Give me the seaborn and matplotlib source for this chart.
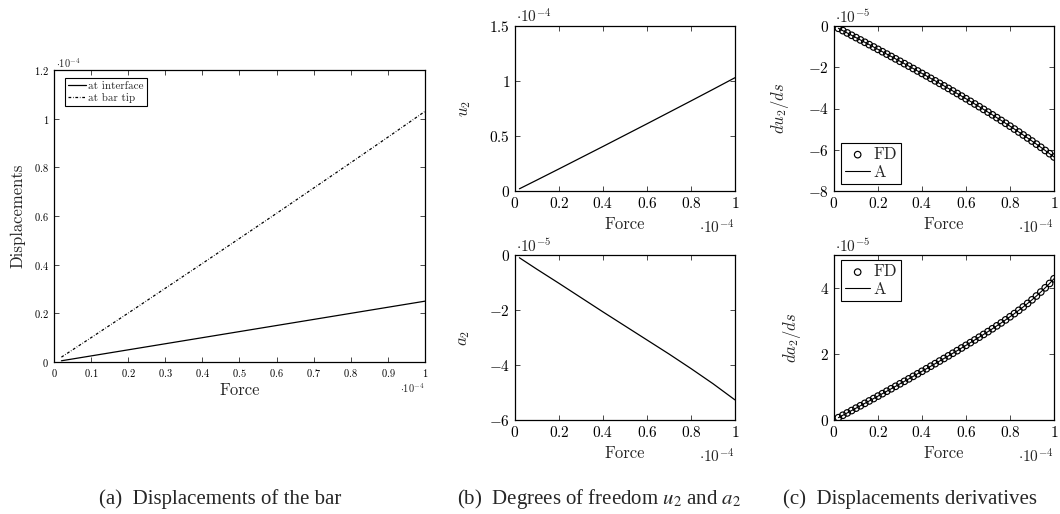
import numpy as np
import pandas as pd
import matplotlib
matplotlib.use("Agg")
import matplotlib.pyplot as plt
from matplotlib.ticker import FuncFormatter, FixedLocator
import seaborn as sns

# ---------------- data ----------------
force_line = [0.02, 0.1, 0.2, 0.3, 0.4, 0.5, 0.6, 0.7, 0.8, 0.9, 1.0]
disp_interface = [0.005, 0.025, 0.05, 0.075, 0.1, 0.125, 0.15, 0.175, 0.2, 0.225, 0.25]
disp_tip = [0.02, 0.10, 0.201, 0.303, 0.405, 0.508, 0.611, 0.715, 0.819, 0.924, 1.03]
u2_vals = [0.02, 0.10, 0.201, 0.303, 0.405, 0.508, 0.611, 0.715, 0.819, 0.924, 1.03]
a2_vals = [-0.10, -0.52, -1.03, -1.55, -2.07, -2.58, -3.09, -3.60, -4.13, -4.68, -5.27]

force_pts = [0.02, 0.04, 0.06, 0.08, 0.10, 0.12, 0.14, 0.16, 0.18, 0.20,
             0.22, 0.24, 0.26, 0.28, 0.30, 0.32, 0.34, 0.36, 0.38, 0.40,
             0.42, 0.44, 0.46, 0.48, 0.50, 0.52, 0.54, 0.56, 0.58, 0.60,
             0.62, 0.64, 0.66, 0.68, 0.70, 0.72, 0.74, 0.76, 0.78, 0.80,
             0.82, 0.84, 0.86, 0.88, 0.90, 0.92, 0.94, 0.96, 0.98, 1.00]
du2_ds = [-0.112, -0.224, -0.337, -0.450, -0.563, -0.676, -0.790, -0.904, -1.018, -1.133,
          -1.248, -1.363, -1.478, -1.594, -1.711, -1.827, -1.945, -2.062, -2.181, -2.300,
          -2.419, -2.539, -2.660, -2.781, -2.903, -3.026, -3.150, -3.274, -3.400, -3.526,
          -3.654, -3.782, -3.912, -4.043, -4.175, -4.308, -4.443, -4.579, -4.717, -4.856,
          -4.997, -5.140, -5.284, -5.430, -5.578, -5.728, -5.880, -6.035, -6.191, -6.350]
da2_ds = [0.071, 0.143, 0.214, 0.286, 0.359, 0.431, 0.504, 0.577, 0.650, 0.724,
          0.798, 0.872, 0.947, 1.021, 1.097, 1.172, 1.247, 1.323, 1.400, 1.476,
          1.553, 1.630, 1.708, 1.786, 1.864, 1.943, 2.022, 2.101, 2.182, 2.262,
          2.344, 2.426, 2.509, 2.593, 2.678, 2.765, 2.853, 2.942, 3.034, 3.128,
          3.224, 3.323, 3.426, 3.532, 3.642, 3.757, 3.878, 4.005, 4.138, 4.280]

legend_a = ["at interface", "at bar tip"]
captions = ["(a)  Displacements of the bar",
            r"(b)  Degrees of freedom $u_2$ and $a_2$",
            "(c)  Displacements derivatives"]

# ---------------- style ----------------
sns.set_style("ticks")
plt.rcParams["font.family"] = ["cmr10", "DejaVu Serif"]
plt.rcParams["mathtext.fontset"] = "cm"
plt.rcParams["axes.formatter.use_mathtext"] = True
plt.rcParams["axes.unicode_minus"] = False
plt.rcParams["axes.edgecolor"] = "black"
plt.rcParams["axes.linewidth"] = 0.8

W, H = 1060, 514
fig = plt.figure(figsize=(W / 100, H / 100), dpi=100)
fig.patch.set_facecolor("white")


def box(l, t, r, b):
    return [l / W, 1 - b / H, (r - l) / W, (b - t) / H]


ax_a = fig.add_axes(box(54, 70, 425, 362))
ax_bt = fig.add_axes(box(515, 26, 735, 191))
ax_bb = fig.add_axes(box(515, 255, 735, 420))
ax_ct = fig.add_axes(box(834, 26, 1054, 191))
ax_cb = fig.add_axes(box(834, 255, 1054, 420))


def fmt(v, pos):
    s = f"{v:g}"
    if s == "-0":
        s = "0"
    return "$" + s + "$"


def style_axes(ax, xt, yt, ylim, fs, tlen):
    ax.set_xlim(0, 1)
    ax.set_ylim(*ylim)
    ax.xaxis.set_major_locator(FixedLocator(xt))
    ax.yaxis.set_major_locator(FixedLocator(yt))
    ax.xaxis.set_major_formatter(FuncFormatter(fmt))
    ax.yaxis.set_major_formatter(FuncFormatter(fmt))
    ax.tick_params(direction="in", top=True, right=True, length=tlen,
                   width=0.5, colors="black", labelsize=fs, pad=3.5)
    for s in ax.spines.values():
        s.set_visible(True)
        s.set_linewidth(0.9)
        s.set_color("black")
    ax.set_facecolor("white")
    ax.grid(False)


def offsets(ax, xtxt, ytxt, fs, xdy):
    ax.text(0.005, 1.0, ytxt, transform=ax.transAxes, ha="left", va="bottom",
            fontsize=fs)
    ax.text(1.0, xdy, xtxt, transform=ax.transAxes, ha="right", va="center",
            fontsize=fs)


# ---------------- panel (a) ----------------
df_a = pd.DataFrame({"Force": force_line, "interface": disp_interface, "tip": disp_tip})
sns.lineplot(data=df_a, x="Force", y="interface", ax=ax_a, color="black",
             linewidth=0.9, label=legend_a[0])
sns.lineplot(data=df_a, x="Force", y="tip", ax=ax_a, color="black",
             linewidth=0.9, label=legend_a[1])
ax_a.lines[1].set_dashes((2.2, 1.4, 0.5, 1.4))
style_axes(ax_a, np.arange(0, 1.01, 0.1), np.arange(0, 1.21, 0.2), (0, 1.2), 7.5, 3.5)
ax_a.set_xlabel("Force", fontsize=12, labelpad=3)
ax_a.set_ylabel("Displacements", fontsize=12, labelpad=6)
offsets(ax_a, r"$\cdot 10^{-4}$", r"$\cdot 10^{-4}$", 7.5, -0.09)
leg = ax_a.legend(loc="upper left", bbox_to_anchor=(11 / 371, 1 - 8 / 292),
                  borderaxespad=0, fontsize=8, frameon=True, fancybox=False,
                  edgecolor="black", framealpha=1, borderpad=0.3,
                  labelspacing=0.15, handlelength=1.6, handletextpad=0.2)
leg.get_frame().set_linewidth(0.8)
for ln in leg.get_lines():
    ln.set_linewidth(0.9)

# ---------------- panel (b) ----------------
df_b = pd.DataFrame({"Force": force_line, "u2": u2_vals, "a2": a2_vals})
sns.lineplot(data=df_b, x="Force", y="u2", ax=ax_bt, color="black", linewidth=0.9)
sns.lineplot(data=df_b, x="Force", y="a2", ax=ax_bb, color="black", linewidth=0.9)
style_axes(ax_bt, [0, 0.2, 0.4, 0.6, 0.8, 1.0], [0, 0.5, 1.0, 1.5], (0, 1.5), 11, 3.5)
style_axes(ax_bb, [0, 0.2, 0.4, 0.6, 0.8, 1.0], [-6, -4, -2, 0], (-6, 0), 11, 3.5)
for ax, yl, ex in [(ax_bt, r"$u_2$", "-4"), (ax_bb, r"$a_2$", "-5")]:
    ax.set_xlabel("Force", fontsize=12, labelpad=4)
    ax.set_ylabel(yl, fontsize=12, labelpad=12)
    offsets(ax, r"$\cdot 10^{-4}$", r"$\cdot 10^{" + ex + "}$", 11, -0.22)

# ---------------- panel (c) ----------------
df_c = pd.DataFrame({"Force": force_pts, "du2": du2_ds, "da2": da2_ds})
for ax, col, yl, ex, ylim, yt, loc, anchor in [
        (ax_ct, "du2", r"$du_2/ds$", "-5", (-8, 0), [-8, -6, -4, -2, 0],
         "lower left", (7 / 220, 7 / 165)),
        (ax_cb, "da2", r"$da_2/ds$", "-5", (0, 5), [0, 2, 4],
         "upper left", (7 / 220, 1 - 5 / 165))]:
    sns.scatterplot(data=df_c, x="Force", y=col, ax=ax, marker="o", s=22,
                    facecolors="none", edgecolor="black", linewidth=0.85,
                    label="FD", zorder=3)
    sns.lineplot(data=df_c, x="Force", y=col, ax=ax, color="black",
                 linewidth=0.8, label="A", zorder=2)
    style_axes(ax, [0, 0.2, 0.4, 0.6, 0.8, 1.0], yt, ylim, 11, 3.5)
    ax.set_xlabel("Force", fontsize=12, labelpad=4)
    ax.set_ylabel(yl, fontsize=12, labelpad=12)
    offsets(ax, r"$\cdot 10^{-4}$", r"$\cdot 10^{" + ex + "}$", 11, -0.22)
    lg = ax.legend(loc=loc, bbox_to_anchor=anchor, borderaxespad=0,
                   fontsize=12, frameon=True, fancybox=False, edgecolor="black",
                   framealpha=1, borderpad=0.25, labelspacing=0.15,
                   handlelength=1.5, handletextpad=0.2)
    lg.get_frame().set_linewidth(0.8)

# ---------------- captions ----------------
for x, txt in zip([220, 599, 910], captions):
    fig.text(x / W, 1 - 499 / H, txt, ha="center", va="center", fontsize=15,
             family="Liberation Serif", math_fontfamily="stix")

fig.savefig("out.png", dpi=100, facecolor="white")
